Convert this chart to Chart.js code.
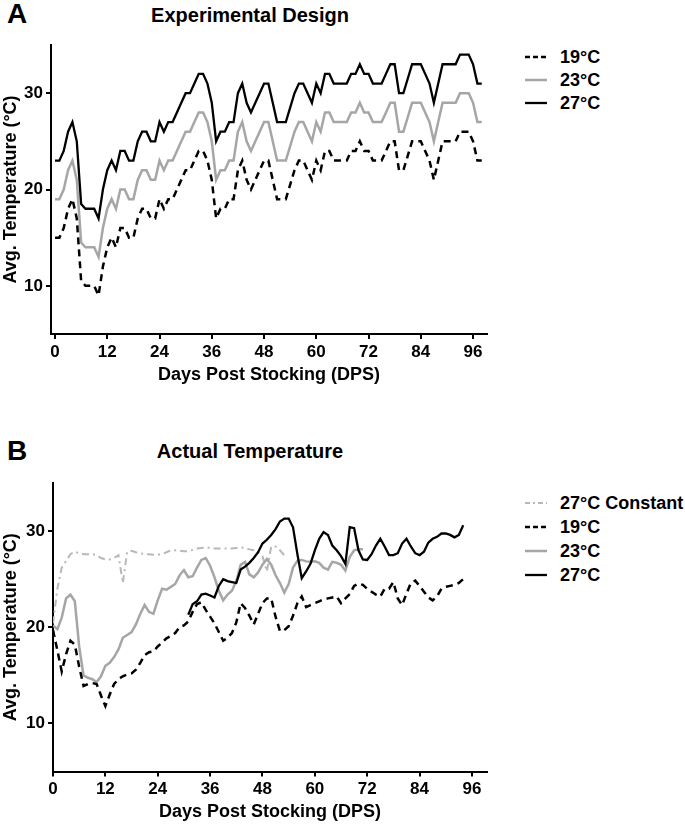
<!DOCTYPE html>
<html>
<head>
<meta charset="utf-8">
<script src="https://cdn.jsdelivr.net/npm/chart.js@4.4.1/dist/chart.umd.min.js"></script>
<style>
  html, body { margin:0; padding:0; background:#fff; }
  body { width:685px; height:825px; position:relative; overflow:hidden;
         font-family:"Liberation Sans", Arial, Helvetica, sans-serif; font-weight:bold; color:#000; }
  .abs { position:absolute; white-space:nowrap; }
  .letter { font-size:28px; line-height:28px; }
  .title { font-size:20px; line-height:20px; width:300px; text-align:center; }
  .leg { position:absolute; height:20px; display:flex; align-items:center; font-size:18px; line-height:20px; white-space:nowrap; }
  canvas { position:absolute; left:0; }
</style>
</head>
<body>
<div class="abs letter" style="left:7px;top:0px;">A</div>
<div class="abs title" style="left:100px;top:5px;">Experimental Design</div>
<canvas id="chartA" width="500" height="400" style="top:0px;"></canvas>
<div id="legendA"></div>

<div class="abs letter" style="left:7px;top:437px;">B</div>
<div class="abs title" style="left:100px;top:441px;">Actual Temperature</div>
<canvas id="chartB" width="500" height="395" style="top:430px;"></canvas>
<div id="legendB"></div>

<script>
// ---------- tick labels ----------
const X_TICKS = [0, 12, 24, 36, 48, 60, 72, 84, 96];
const Y_TICKS = [10, 20, 30];

// ---------- Panel A: Experimental Design (daily, starting day 0) ----------
const DESIGN_START = 0;
const design19 = [15,15,16,18,19,17,10.5,10,10,10, 9,12,14,15,14,16,16,15,15,17,
  18,18,17,17,19,18,19,19,20,21, 22,22,23,24,24,23,21,17,18,18,
  19,19,22,23,21,20,21,22,23,23, 21,19,19,19,20.5,22,23,23,22,21,
  23,22,24,24,23,23,23,23,24,24, 25,24,24,23,23,23,24,25,25,22,
  22,23.5,25,25,25,24,23,21,23,25, 25,25,25,26,26,26,25,23,23];
const design23 = [19,19,20,22,23,21,14.5,14,14,14, 13,16,18,19,18,20,20,19,19,21,
  22,22,21,21,23,22,23,23,24,25, 26,26,27,28,28,27,25,21,22,22,
  23,23,26,27,25,24,25,26,27,27, 25,23,23,23,24.5,26,27,27,26,25,
  27,26,28,28,27,27,27,27,28,28, 29,28,28,27,27,27,28,29,29,26,
  26,27.5,29,29,29,28,27,25,27,29, 29,29,29,30,30,30,29,27,27];
const design27 = [23,23,24,26,27,25,18.5,18,18,18, 17,20,22,23,22,24,24,23,23,25,
  26,26,25,25,27,26,27,27,28,29, 30,30,31,32,32,31,29,25,26,26,
  27,27,30,31,29,28,29,30,31,31, 29,27,27,27,28.5,30,31,31,30,29,
  31,30,32,32,31,31,31,31,32,32, 33,32,32,31,31,31,32,33,33,30,
  30,31.5,33,33,33,32,31,29,31,33, 33,33,33,34,34,34,33,31,31];

// ---------- Panel B: Actual Temperature (daily) ----------
const CONST_START = 0;
const actualConst = [20.4,24,26.2,26.9,27.6,27.85,27.7,27.6,27.6,27.6,
  27.5,27.2,27.05,27.05,27.2,27.5,24.6,27.85,27.95,27.8,
  27.7,27.6,27.6,27.55,27.55,27.6,27.8,28,28,27.95,
  27.9,27.9,28.05,28.2,28.25,28.3,28.25,28.2,28.2,28.2,
  28.2,28.2,28.25,28.3,28.25,28.1,28,27.8,27.4,25.8,
  28.4,28.4,28,27.5];
const ACT19_START = 0;
const actual19 = [19.7,17.6,15.4,17.2,18.6,18.2,15.9,13.9,14.1,14.2,
  14.1,12.9,11.8,13,14.1,14.6,14.9,15.1,15.2,15.6,
  16.3,17.1,17.4,17.5,18,18.4,18.85,19.1,19.4,20,
  20.2,20.6,21.6,22.4,22.6,21.8,21.1,20.4,19.5,18.6,
  18.9,19.4,20.5,22.5,22,21.2,20.3,21.4,22.5,23,
  23,21.1,19.6,19.7,20.1,21.2,22.5,23.2,22.1,22.3,
  22.5,22.7,22.9,23,23.1,23.2,22.5,23,23.45,24.3,
  24.55,24.4,24,23.7,23.4,23.2,24,24,24.7,23,
  22.3,23.5,24.6,24.85,24.3,23.7,23.1,22.8,23.2,24,
  24.2,24.3,24.4,24.6,25];
const ACT23_START = 0;
const actual23 = [20.2,19.8,21,23,23.4,22.7,18,15,14.75,14.6,
  14.3,14.9,16,16.3,16.9,17.7,18.9,19.2,19.5,20.3,
  21.4,22.3,21.6,21.4,22.8,24,23.9,24.2,24.5,25.4,
  25.95,25.2,25.3,26.2,27,27.2,26.4,25.2,23.8,22.8,
  23.4,23.8,24.8,26.5,26.8,25.5,25.2,25.7,26.5,27.1,
  26.5,25.4,24.6,23.6,24.5,26.2,26.9,27,26.85,26.8,
  26.85,26.7,26.2,26,26.8,26.7,26.5,25.9,27.3,28,
  28.1,28.1];
const ACT27_START = 31;
const actual27 = [21.3,22.4,22.7,23.4,23.5,23.3,23.1,24.3,25,24.8,
  24.7,24.6,26,26.3,26.7,27.2,27.8,28.7,29.1,29.6,
  30.2,31,31.3,31.3,30.4,27.6,25.1,25.8,26.6,28,
  29.2,29.9,29.6,28.5,28,27.4,26.6,30.4,30.3,28,
  27.05,27,27.6,28.5,29.2,28.4,27.5,27.5,27.7,28.7,
  29.2,28.4,27.7,27.5,27.85,28.8,29.2,29.4,29.75,29.75,
  29.6,29.35,29.6,30.6];

// ---------- helpers ----------
const FONT = '"Liberation Sans", Arial, Helvetica, sans-serif';
Chart.defaults.font.family = FONT;
Chart.defaults.font.weight = 'bold';
Chart.defaults.color = '#000';

const toPoints = (start, vals) => vals.map((v, i) => ({ x: start + i, y: v }));

const STYLES = {
  s19:    { borderColor: '#000000', borderWidth: 2.5, borderDash: [7, 5], legendDash: '5 3' },
  s23:    { borderColor: '#a6a6a6', borderWidth: 2.5, borderDash: [], legendDash: '' },
  s27:    { borderColor: '#000000', borderWidth: 2.3, borderDash: [], legendDash: '' },
  sConst: { borderColor: '#b8b8b8', borderWidth: 2, borderDash: [7, 4, 2, 4], legendDash: '5 3 2 3' }
};

function ds(label, style, start, vals, order) {
  const s = STYLES[style];
  return {
    label, data: toPoints(start, vals), order,
    borderColor: s.borderColor, borderWidth: s.borderWidth, borderDash: s.borderDash,
    pointRadius: 0, tension: 0, fill: false, legendDash: s.legendDash
  };
}

function makeChart(id, datasets, g) {
  return new Chart(document.getElementById(id), {
    type: 'line',
    data: { datasets },
    options: {
      responsive: false, animation: false, events: [],
      layout: { padding: { top: g.top, right: g.right, bottom: 0, left: 0 } },
      plugins: { legend: { display: false }, tooltip: { enabled: false }, title: { display: false } },
      scales: {
        x: {
          type: 'linear', min: g.xMin, max: g.xMax,
          afterFit: s => { s.height = g.xh; },
          afterBuildTicks: s => { s.ticks = X_TICKS.map(v => ({ value: v })); },
          ticks: { font: { size: 17, weight: 'bold', family: FONT }, color: '#000', padding: 3,
                   maxRotation: 0, autoSkip: false, callback: v => String(v) },
          grid: { drawOnChartArea: false, drawTicks: true, tickLength: 5, color: '#000', lineWidth: 2 },
          border: { display: true, color: '#000', width: 2 },
          title: { display: true, text: 'Days Post Stocking (DPS)', color: '#000',
                   font: { size: 18, weight: 'bold', family: FONT }, padding: { top: 0, bottom: g.xtpb } }
        },
        y: {
          type: 'linear', min: 5, max: 35,
          afterFit: s => { s.width = g.yw; },
          afterBuildTicks: s => { s.ticks = Y_TICKS.map(v => ({ value: v })); },
          ticks: { font: { size: 17, weight: 'bold', family: FONT }, color: '#000', padding: 3,
                   callback: v => String(v) },
          grid: { drawOnChartArea: false, drawTicks: true, tickLength: 5, color: '#000', lineWidth: 2 },
          border: { display: true, color: '#000', width: 2 },
          title: { display: true, text: 'Avg. Temperature (°C)', color: '#000',
                   font: { size: 18, weight: 'bold', family: FONT }, padding: { top: 0, bottom: 0 } }
        }
      }
    }
  });
}

function buildLegend(elId, datasets, firstY, step) {
  const el = document.getElementById(elId);
  datasets.forEach((d, i) => {
    const item = document.createElement('div');
    item.className = 'leg';
    item.style.left = '525px';
    item.style.top = (firstY + i * step - 10) + 'px';
    const dash = d.legendDash ? ` stroke-dasharray="${d.legendDash}"` : '';
    item.innerHTML = `<svg width="22" height="10" style="margin-right:13px"><line x1="0" y1="5" x2="22" y2="5" stroke="${d.borderColor}" stroke-width="${d.borderWidth}"${dash}/></svg><span>${d.label}</span>`;
    el.appendChild(item);
  });
}

// ---------- Panel A ----------
const dsA = [
  ds('19°C', 's19', DESIGN_START, design19, 1),
  ds('23°C', 's23', DESIGN_START, design23, 2),
  ds('27°C', 's27', DESIGN_START, design27, 0)
];
makeChart('chartA', dsA, { top: 45, right: 13, xh: 66, xtpb: 14, yw: 51, xMin: -0.92, xMax: 99.2 });
buildLegend('legendA', dsA, 57, 23);

// ---------- Panel B ----------
const dsB = [
  ds('27°C Constant', 'sConst', CONST_START, actualConst, 3),
  ds('19°C', 's19', ACT19_START, actual19, 1),
  ds('23°C', 's23', ACT23_START, actual23, 2),
  ds('27°C', 's27', ACT27_START, actual27, 0)
];
makeChart('chartB', dsB, { top: 53, right: 13, xh: 53.5, xtpb: 2, yw: 53, xMin: 0, xMax: 99.45 });
buildLegend('legendB', dsB, 503, 24);
</script>
</body>
</html>
